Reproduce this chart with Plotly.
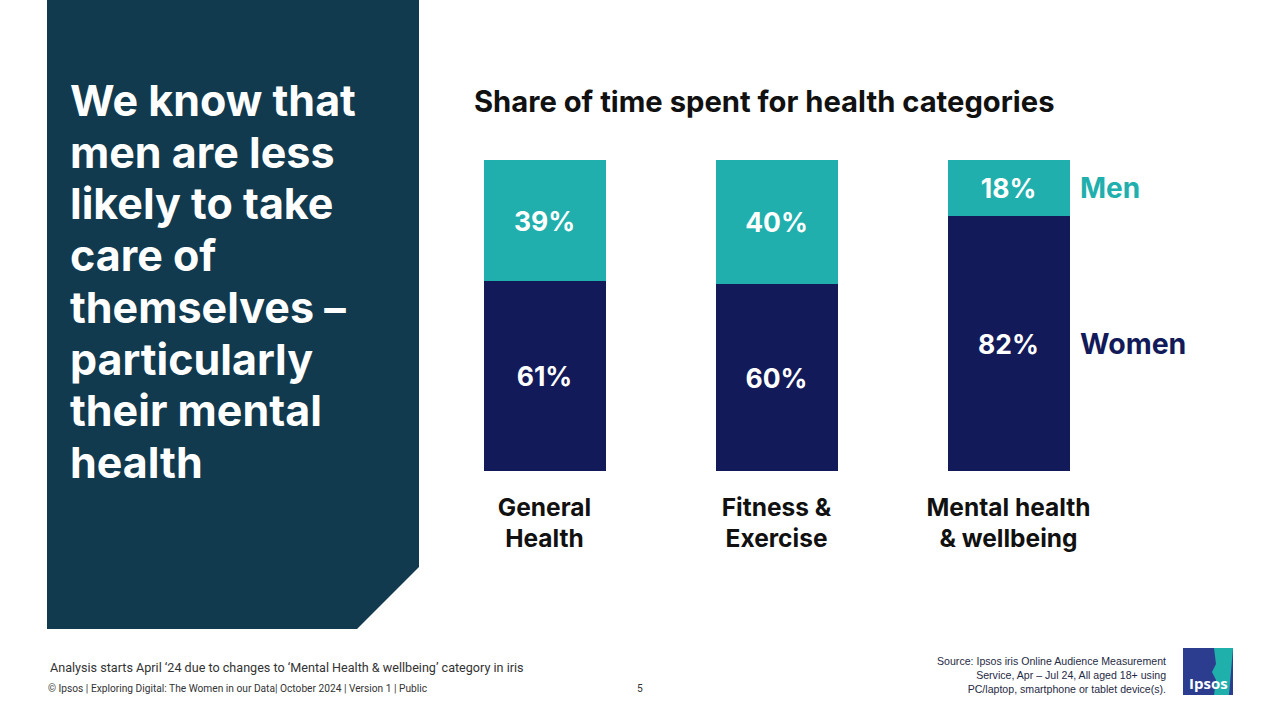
import plotly.graph_objects as go

categories = ["General<br>Health", "Fitness &<br>Exercise", "Mental health<br>& wellbeing"]
women = [61, 60, 82]
men = [39, 40, 18]
title_text = "Share of time spent for health categories"
headline_lines = ["We know that", "men are less", "likely to take", "care of",
                  "themselves –", "particularly", "their mental", "health"]

TEAL = "#20AFAD"
NAVY = "#131A59"
PANEL = "#113A4F"
FONT = "Inter"

xpos = list(range(len(categories)))
W, H = 1280, 720

fig = go.Figure()
for name, vals, col in (("Women", women, NAVY), ("Men", men, TEAL)):
    fig.add_trace(go.Bar(
        x=xpos, y=vals, name=name, width=0.53,
        marker=dict(color=col, line=dict(width=0)),
        texttemplate="%{y}%", textposition="inside", insidetextanchor="middle",
        textangle=0, constraintext="none",
        textfont=dict(family=FONT, size=26.5, color="white", weight="bold"),
    ))

# left panel with cut corner
fig.add_shape(type="path", xref="paper", yref="paper",
              path=f"M {47/W} 1 L {419/W} 1 L {419/W} {1-567/H} L {357/W} {1-629/H} L {47/W} {1-629/H} Z",
              fillcolor=PANEL, line=dict(width=0), layer="below")

annotations = []
for i, line in enumerate(headline_lines):
    annotations.append(dict(text=line, xref="paper", yref="paper", x=68/W, y=1-(100 + i*51.7)/H,
                            xanchor="left", yanchor="middle", align="left", showarrow=False,
                            font=dict(family=FONT, size=43, color="white", weight="bold")))
annotations.append(dict(text=title_text, xref="paper", yref="paper", x=472/W, y=1-102/H,
                        xanchor="left", yanchor="middle", showarrow=False,
                        font=dict(family=FONT, size=29.2, color="#111111", weight="bold")))
# series labels next to last bar
last = len(categories) - 1
annotations.append(dict(text="Men", xref="x", yref="y", x=last + 0.265, y=women[last] + men[last] / 2,
                        xanchor="left", yanchor="middle", xshift=8, showarrow=False,
                        font=dict(family=FONT, size=28, color=TEAL, weight="bold")))
annotations.append(dict(text="Women", xref="x", yref="y", x=last + 0.265, y=women[last] / 2,
                        xanchor="left", yanchor="middle", xshift=8, showarrow=False,
                        font=dict(family=FONT, size=28.5, color=NAVY, weight="bold")))
# footer
annotations.append(dict(text="Analysis starts April ‘24 due to changes to ‘Mental Health & wellbeing’ category in iris",
                        xref="paper", yref="paper", x=48/W, y=1-667/H, xanchor="left", yanchor="middle",
                        showarrow=False, font=dict(family="Roboto", size=12.6, color="#333333")))
annotations.append(dict(text="© Ipsos | Exploring Digital: The Women in our Data| October 2024 | Version 1 | Public",
                        xref="paper", yref="paper", x=46/W, y=1-688/H, xanchor="left", yanchor="middle",
                        showarrow=False, font=dict(family="Roboto", size=10.2, color="#333333")))
annotations.append(dict(text="5", xref="paper", yref="paper", x=640/W, y=1-688/H, xanchor="center", yanchor="middle",
                        showarrow=False, font=dict(family="Roboto", size=10.2, color="#333333")))
annotations.append(dict(text="Source: Ipsos iris Online Audience Measurement<br>Service, Apr – Jul 24, All aged 18+ using<br>PC/laptop, smartphone or tablet device(s).",
                        xref="paper", yref="paper", x=1168/W, y=1-675/H, xanchor="right", yanchor="middle",
                        align="right", showarrow=False,
                        font=dict(family="Liberation Sans", size=10.6, color="#1F2A44")))
# logo
fig.add_shape(type="rect", xref="paper", yref="paper", x0=1183/W, x1=1233/W, y0=1-695/H, y1=1-648/H,
              fillcolor="#2C3D8F", line=dict(width=0))
fig.add_shape(type="path", xref="paper", yref="paper",
              path=f"M {1214/W} {1-648/H} L {1233/W} {1-648/H} L {1229/W} {1-695/H} L {1214/W} {1-695/H} "
                   f"L {1216/W} {1-680/H} L {1212/W} {1-672/H} L {1216/W} {1-664/H} Z",
              fillcolor="#1FB0AC", line=dict(width=0))
annotations.append(dict(text="Ipsos", xref="paper", yref="paper", x=1208/W, y=1-683/H, xanchor="center", yanchor="middle",
                        showarrow=False, font=dict(family="Open Sans", size=15, color="white", weight="bold")))

fig.update_layout(
    width=W, height=H,
    barmode="stack", bargap=0,
    showlegend=False,
    paper_bgcolor="white", plot_bgcolor="white",
    margin=dict(l=0, r=0, t=0, b=0),
    xaxis=dict(domain=[428.5/W, 1124.5/W], range=[-0.5, 2.5], tickvals=xpos, ticktext=categories,
               showgrid=False, zeroline=False, showline=False, ticks="",
               tickfont=dict(family=FONT, size=24.5, color="#111111", weight="bold"), ticklabelstandoff=19),
    yaxis=dict(domain=[1-471/H, 1-160/H], range=[0, 100], visible=False),
    annotations=annotations,
)

fig.write_html("out.html", config={"displayModeBar": False},
               post_script="document.body.style.margin='0';document.body.style.overflow='hidden';")
